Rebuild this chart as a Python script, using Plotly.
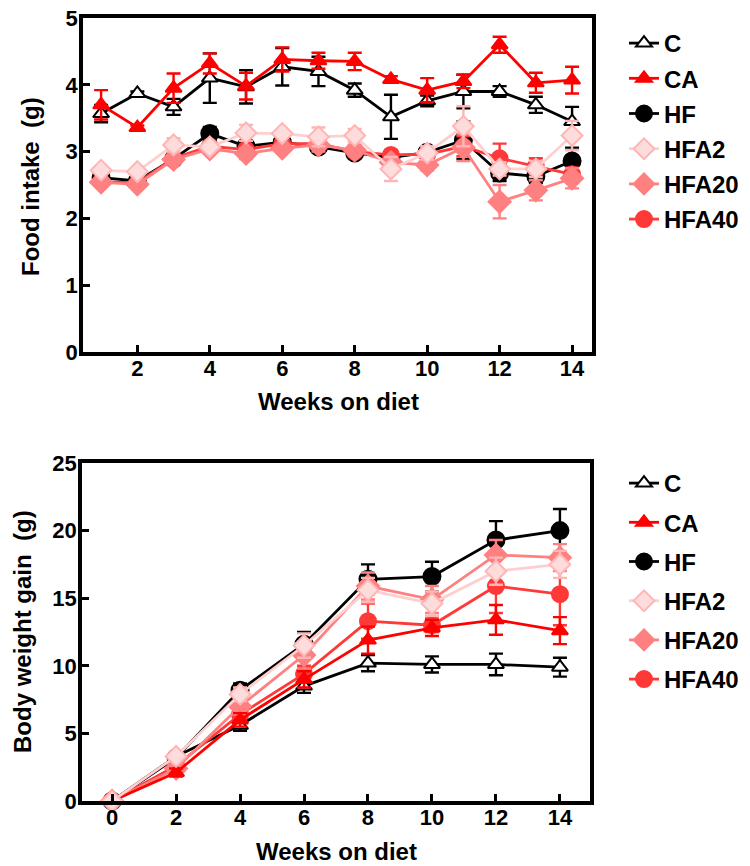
import plotly.graph_objects as go

# food intake, weeks 1..14
weeks_fi = list(range(1, 15))
c_fi = [3.57, 3.87, 3.67, 4.10, 3.97, 4.27, 4.20, 3.92, 3.52, 3.76, 3.90, 3.90, 3.70, 3.45]
c_fi_err = [0.13, 0.03, 0.12, 0.37, 0.25, 0.28, 0.22, 0.10, 0.33, 0.08, 0.25, 0.08, 0.12, 0.22]
ca_fi = [3.70, 3.36, 3.95, 4.32, 3.98, 4.38, 4.36, 4.35, 4.08, 3.92, 4.05, 4.60, 4.03, 4.07]
ca_fi_err = [0.22, 0.03, 0.22, 0.15, 0.20, 0.18, 0.12, 0.13, 0.05, 0.18, 0.10, 0.12, 0.15, 0.20]
hf_fi = [2.61, 2.56, 2.89, 3.27, 3.08, 3.14, 3.07, 2.98, 2.91, 2.99, 3.17, 2.68, 2.63, 2.86]
hf_fi_err = [0.05, 0.05, 0.05, 0.10, 0.05, 0.05, 0.05, 0.05, 0.05, 0.05, 0.28, 0.12, 0.10, 0.20]
hfa2_fi = [2.72, 2.70, 3.10, 3.07, 3.28, 3.27, 3.22, 3.24, 2.74, 2.98, 3.38, 2.74, 2.74, 3.24]
hfa2_fi_err = [0.05, 0.05, 0.10, 0.05, 0.12, 0.05, 0.14, 0.10, 0.18, 0.10, 0.30, 0.10, 0.12, 0.22]
hfa20_fi = [2.54, 2.51, 2.88, 3.04, 2.97, 3.05, 3.10, 3.02, 2.84, 2.80, 3.06, 2.25, 2.42, 2.60]
hfa20_fi_err = [0.05, 0.05, 0.05, 0.05, 0.08, 0.05, 0.10, 0.08, 0.05, 0.08, 0.20, 0.25, 0.15, 0.15]
hfa40_fi = [2.55, 2.53, 2.90, 3.08, 3.03, 3.12, 3.12, 3.00, 2.95, 2.96, 3.08, 2.90, 2.78, 2.66]
hfa40_fi_err = [0.05, 0.05, 0.05, 0.05, 0.05, 0.05, 0.05, 0.05, 0.05, 0.10, 0.15, 0.22, 0.12, 0.10]

# body weight gain, weeks 0..14
weeks_bw = [0, 2, 4, 6, 8, 10, 12, 14]
c_bw = [0, 3.3, 5.6, 8.5, 10.2, 10.1, 10.1, 9.9]
c_bw_err = [0, 0.3, 0.4, 0.5, 0.6, 0.6, 0.8, 0.7]
ca_bw = [0, 2.1, 6.0, 9.0, 11.9, 12.8, 13.4, 12.6]
ca_bw_err = [0, 0.3, 0.5, 0.6, 1.0, 0.6, 1.1, 1.0]
hf_bw = [0, 3.2, 8.2, 11.6, 16.4, 16.6, 19.3, 20.0]
hf_bw_err = [0, 0.3, 0.5, 0.9, 1.1, 1.1, 1.4, 1.6]
hfa2_bw = [0, 3.3, 7.9, 11.5, 15.6, 14.6, 17.0, 17.5]
hfa2_bw_err = [0, 0.3, 0.5, 0.9, 0.9, 0.9, 1.0, 1.0]
hfa20_bw = [0, 2.4, 7.0, 10.8, 15.9, 14.9, 18.2, 18.0]
hfa20_bw_err = [0, 0.3, 0.6, 1.0, 1.0, 1.0, 1.1, 1.0]
hfa40_bw = [0, 2.6, 6.4, 9.4, 13.3, 13.0, 15.9, 15.3]
hfa40_bw_err = [0, 0.3, 0.5, 0.6, 1.3, 0.5, 2.0, 2.3]

FONT = 'Liberation Sans, Arial, sans-serif'

# the page body has an 8px margin, so the figure is a bit smaller than the window
W, H, OFF = 742, 858, 8


def px(x):
    return (x - OFF) / W


def py(y):
    return 1 - (y - OFF) / H


# line color, marker symbol, marker fill, marker outline, size
styles = {
    'C': ('black', 'triangle-up', 'white', 'black', 14),
    'CA': ('#ff0000', 'triangle-up', '#ff0000', '#ff0000', 14),
    'HF': ('black', 'circle', 'black', 'black', 17),
    'HFA2': ('#ffcfcf', 'diamond', '#ffdcdc', '#ffb5b5', 16),
    'HFA20': ('#ff8080', 'diamond', '#ff8080', '#ff8080', 17),
    'HFA40': ('#ff3838', 'circle', '#ff3838', '#ff3838', 16),
}
legend_order = ['C', 'CA', 'HF', 'HFA2', 'HFA20', 'HFA40']
draw_order = ['HF', 'C', 'HFA40', 'HFA20', 'CA', 'HFA2']

fi = {'C': (c_fi, c_fi_err), 'CA': (ca_fi, ca_fi_err), 'HF': (hf_fi, hf_fi_err),
      'HFA2': (hfa2_fi, hfa2_fi_err), 'HFA20': (hfa20_fi, hfa20_fi_err), 'HFA40': (hfa40_fi, hfa40_fi_err)}
bw = {'C': (c_bw, c_bw_err), 'CA': (ca_bw, ca_bw_err), 'HF': (hf_bw, hf_bw_err),
      'HFA2': (hfa2_bw, hfa2_bw_err), 'HFA20': (hfa20_bw, hfa20_bw_err), 'HFA40': (hfa40_bw, hfa40_bw_err)}

fig = go.Figure()


def add_series(name, x, y, err, xaxis, yaxis, legend):
    color, symbol, fill, outline, size = styles[name]
    err_color = color if name != 'HFA2' else '#ffb5b5'
    fig.add_trace(go.Scatter(
        x=x, y=y, name=name, mode='lines+markers',
        xaxis=xaxis, yaxis=yaxis, legend=legend,
        legendgroup=legend + name, legendrank=legend_order.index(name) + 1,
        line=dict(color=color, width=2.8),
        marker=dict(symbol=symbol, size=size, color=fill, line=dict(color=outline, width=2)),
        error_y=dict(type='data', array=err, visible=True, color=err_color, thickness=2.4, width=7),
        cliponaxis=False,
    ))


for name in draw_order:
    add_series(name, weeks_fi, fi[name][0], fi[name][1], 'x', 'y', 'legend')
for name in draw_order:
    add_series(name, weeks_bw, bw[name][0], bw[name][1], 'x2', 'y2', 'legend2')

axis_common = dict(
    showline=True, linecolor='black', linewidth=3.5, mirror=True,
    ticks='inside', ticklen=7, tickwidth=3, tickcolor='black',
    showgrid=False, zeroline=False, automargin=False, ticklabeloverflow='allow',
    tickfont=dict(family=FONT, size=22, color='black', weight='bold'),
)

legend_common = dict(
    xanchor='left', yanchor='top', traceorder='grouped',
    font=dict(family=FONT, size=24, color='black', weight='bold'),
    bgcolor='rgba(0,0,0,0)', itemwidth=30,
)

fig.update_layout(
    width=W, height=H,
    margin=dict(l=0, r=0, t=0, b=0, autoexpand=False),
    paper_bgcolor='white', plot_bgcolor='white',
    font=dict(family=FONT, color='black'),
    xaxis=dict(domain=[px(83), px(592)], range=[0.5, 14.55], tickvals=[2, 4, 6, 8, 10, 12, 14],
               anchor='y', ticklabelstandoff=-6, **axis_common),
    yaxis=dict(domain=[py(352), py(18)], range=[0, 5], dtick=1, anchor='x', ticklabelstandoff=-3,
               **axis_common),
    xaxis2=dict(domain=[px(82), px(590)], range=[-0.94, 14.94], tickvals=[0, 2, 4, 6, 8, 10, 12, 14],
                anchor='y2', ticklabelstandoff=-6, **axis_common),
    yaxis2=dict(domain=[py(801), py(463)], range=[0, 25], dtick=5, anchor='x2', ticklabelstandoff=-3,
                **axis_common),
    legend=dict(x=px(624), y=py(21), tracegroupgap=1, **legend_common),
    legend2=dict(x=px(624), y=py(461), tracegroupgap=5, **legend_common),
    showlegend=True,
)

title_font = dict(family=FONT, size=24, color='black', weight='bold')
titles = [
    ('Food intake\u00a0 (g)', 30, 187, -90),
    ('Weeks on diet', 338, 401, 0),
    ('Body weight gain\u00a0 (g)', 22, 632, -90),
    ('Weeks on diet', 336, 851, 0),
]
for text, tx, ty, angle in titles:
    fig.add_annotation(text=text, x=px(tx), y=py(ty), xref='paper', yref='paper',
                       xanchor='center', yanchor='middle', textangle=angle,
                       showarrow=False, font=title_font)

fig.write_html('out.html')
